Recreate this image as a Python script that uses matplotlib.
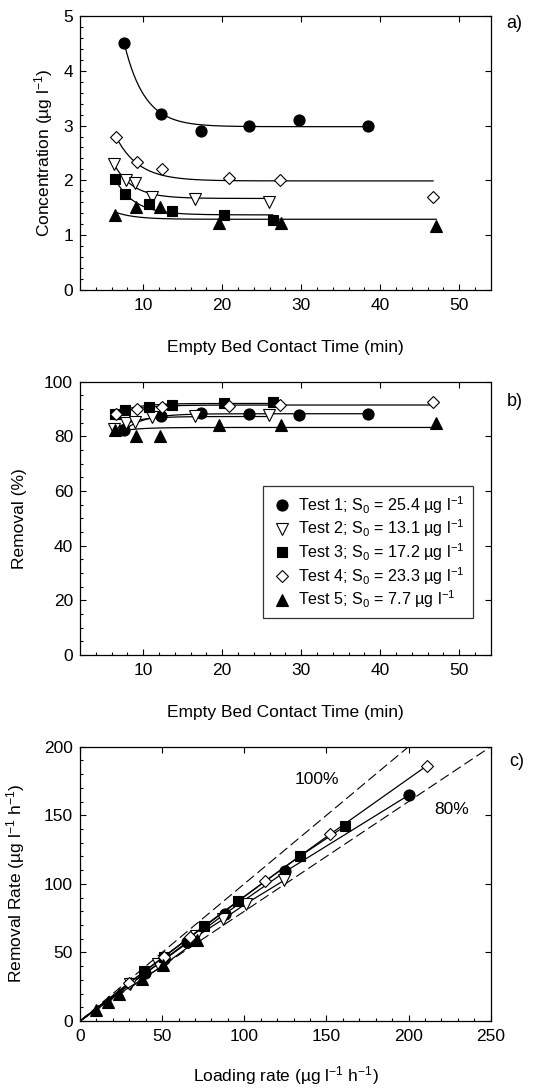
import numpy as np
import matplotlib
matplotlib.use("Agg")
import matplotlib.pyplot as plt

plt.rcParams['font.family'] = ['Liberation Sans', 'DejaVu Sans']
plt.rcParams['mathtext.fontset'] = 'custom'
plt.rcParams['mathtext.rm'] = 'Liberation Sans'
plt.rcParams['mathtext.it'] = 'Liberation Sans:italic'
plt.rcParams['mathtext.default'] = 'regular'

# ---- data ----
tests = ["Test 1", "Test 2", "Test 3", "Test 4", "Test 5"]
s0 = [25.4, 13.1, 17.2, 23.3, 7.7]

ebct_1 = [7.6, 12.2, 17.3, 23.4, 29.7, 38.5]
ebct_2 = [6.33, 7.8, 9.0, 11.1, 16.6, 25.9]
ebct_3 = [6.4, 7.7, 10.7, 13.7, 20.2, 26.4]
ebct_4 = [6.54, 9.2, 12.4, 20.9, 27.3, 46.7]
ebct_5 = [6.46, 9.1, 12.15, 19.6, 27.5, 47.1]

conc_1 = [4.50, 3.21, 2.90, 3.00, 3.10, 3.00]
conc_2 = [2.29, 2.00, 1.95, 1.70, 1.66, 1.60]
conc_3 = [2.03, 1.76, 1.56, 1.44, 1.36, 1.28]
conc_4 = [2.79, 2.34, 2.20, 2.04, 2.00, 1.70]
conc_5 = [1.37, 1.52, 1.52, 1.22, 1.22, 1.16]

rem_1 = [82.3, 87.4, 88.6, 88.2, 87.8, 88.2]
rem_2 = [82.5, 84.7, 85.1, 87.0, 87.3, 87.8]
rem_3 = [88.2, 89.8, 90.9, 91.6, 92.1, 92.6]
rem_4 = [88.0, 90.0, 90.6, 91.2, 91.4, 92.7]
rem_5 = [82.2, 80.3, 80.3, 84.2, 84.2, 84.9]

load_1 = [200.5, 125.0, 88.0, 65.0, 51.3, 39.6]
load_2 = [124.2, 100.8, 87.3, 70.8, 47.3, 30.3]
load_3 = [161.3, 134.0, 96.4, 75.3, 51.1, 39.1]
load_4 = [211.0, 152.0, 112.7, 66.9, 51.2, 29.9]
load_5 = [71.5, 50.8, 38.0, 23.6, 16.8, 9.8]

rrate_1 = [165.0, 109.0, 78.0, 57.4, 45.0, 34.9]
rrate_2 = [102.5, 85.4, 74.3, 61.6, 41.3, 26.6]
rrate_3 = [142.0, 120.3, 87.7, 69.0, 47.0, 36.2]
rrate_4 = [186.0, 136.0, 102.0, 61.0, 46.8, 27.8]
rrate_5 = [58.8, 40.7, 30.5, 19.8, 14.1, 8.3]

# exponential fit parameters: C = c_inf + (c_start - c_inf) * exp(-k (t - t_start))
fit_tstart = [7.6, 6.33, 6.4, 6.54, 6.46]
fit_tend = [38.5, 25.9, 26.4, 46.7, 47.1]
fit_cstart = [4.5, 2.29, 2.03, 2.80, 1.42]
fit_cinf = [2.98, 1.67, 1.37, 1.99, 1.29]
fit_k = [0.39, 0.42, 0.40, 0.35, 0.40]

ebct = [ebct_1, ebct_2, ebct_3, ebct_4, ebct_5]
conc = [conc_1, conc_2, conc_3, conc_4, conc_5]
rem = [rem_1, rem_2, rem_3, rem_4, rem_5]
load = [load_1, load_2, load_3, load_4, load_5]
rrate = [rrate_1, rrate_2, rrate_3, rrate_4, rrate_5]

markers = ['o', 'v', 's', 'D', '^']
faces = ['black', 'white', 'black', 'white', 'black']
msizes = [8, 8, 7.5, 6.5, 8]


def fit_curve(i):
    t = np.linspace(fit_tstart[i], fit_tend[i], 200)
    c = fit_cinf[i] + (fit_cstart[i] - fit_cinf[i]) * np.exp(-fit_k[i] * (t - fit_tstart[i]))
    return t, c


def style_axes(ax, xmaj, xmin, ymaj, ymin):
    ax.set_xticks(xmaj)
    ax.set_xticks(xmin, minor=True)
    ax.set_yticks(ymaj)
    ax.set_yticks(ymin, minor=True)
    ax.tick_params(which='major', direction='in', length=4, width=0.8,
                   top=True, right=True, labelsize=12.5)
    ax.tick_params(which='minor', direction='in', length=2.5, width=0.8,
                   top=False, right=False)
    ax.tick_params(axis='x', pad=6)
    ax.tick_params(axis='y', pad=5)
    for sp in ax.spines.values():
        sp.set_linewidth(0.9)


fig = plt.figure(figsize=(5.52, 10.88), dpi=100)

# ---- a) ----
axa = fig.add_axes([0.145, 0.7335, 0.744, 0.2518])
for i in range(5):
    t, c = fit_curve(i)
    axa.plot(t, c, color='black', lw=0.9)
    axa.plot(ebct[i], conc[i], ls='none', marker=markers[i], ms=msizes[i],
             mfc=faces[i], mec='black', mew=0.8)
axa.set_xlim(2, 54)
axa.set_ylim(0, 5)
style_axes(axa, [10, 20, 30, 40, 50], np.arange(4, 54, 2),
           [0, 1, 2, 3, 4, 5], np.arange(0, 5.01, 0.2))
axa.set_xlabel('Empty Bed Contact Time (min)', fontsize=12.5, labelpad=19)
axa.set_ylabel('Concentration (µg l$^{-1}$)', fontsize=12.5, labelpad=6)
fig.text(0.918, 0.978, 'a)', fontsize=13, ha='left', va='center')

# ---- b) ----
axb = fig.add_axes([0.145, 0.398, 0.744, 0.2512])
for i in range(5):
    t, c = fit_curve(i)
    axb.plot(t, 100 * (1 - c / s0[i]), color='black', lw=0.9)
    axb.plot(ebct[i], rem[i], ls='none', marker=markers[i], ms=msizes[i],
             mfc=faces[i], mec='black', mew=0.8,
             label='%s; S$_0$ = %s µg l$^{-1}$' % (tests[i], s0[i]))
axb.set_xlim(2, 54)
axb.set_ylim(0, 100)
style_axes(axb, [10, 20, 30, 40, 50], np.arange(4, 54, 2),
           [0, 20, 40, 60, 80, 100], np.arange(0, 101, 5))
axb.set_xlabel('Empty Bed Contact Time (min)', fontsize=12.5, labelpad=19)
axb.set_ylabel('Removal (%)', fontsize=12.5, labelpad=12)
leg = axb.legend(loc='upper right', bbox_to_anchor=(0.957, 0.618), fontsize=11.6,
                 frameon=True, fancybox=False, edgecolor='black',
                 handletextpad=0.4, handlelength=1.3, borderpad=0.5,
                 labelspacing=0.12, borderaxespad=0)
leg.get_frame().set_linewidth(0.9)
fig.text(0.918, 0.631, 'b)', fontsize=13, ha='left', va='center')

# ---- c) ----
axc = fig.add_axes([0.145, 0.0616, 0.744, 0.2521])
axc.plot([0, 200], [0, 200], color='black', lw=0.8, dashes=(9, 4))
axc.plot([0, 250], [0, 200], color='black', lw=0.8, dashes=(9, 4))
for i in range(5):
    order = np.argsort(load[i])
    xs = np.concatenate([[0], np.array(load[i])[order]])
    ys = np.concatenate([[0], np.array(rrate[i])[order]])
    axc.plot(xs, ys, color='black', lw=0.9)
    axc.plot(load[i], rrate[i], ls='none', marker=markers[i], ms=msizes[i],
             mfc=faces[i], mec='black', mew=0.8)
axc.text(144, 176, '100%', fontsize=12.5, ha='center', va='center')
axc.text(226, 154, '80%', fontsize=12.5, ha='center', va='center')
axc.set_xlim(0, 250)
axc.set_ylim(0, 200)
style_axes(axc, [0, 50, 100, 150, 200, 250], np.arange(0, 251, 10),
           [0, 50, 100, 150, 200], np.arange(0, 201, 10))
axc.set_xlabel('Loading rate (µg l$^{-1}$ h$^{-1}$)', fontsize=12.5, labelpad=14)
axc.set_ylabel('Removal Rate (µg l$^{-1}$ h$^{-1}$)', fontsize=12.5, labelpad=12)
fig.text(0.922, 0.30, 'c)', fontsize=13, ha='left', va='center')

fig.savefig('out.png', dpi=100)
